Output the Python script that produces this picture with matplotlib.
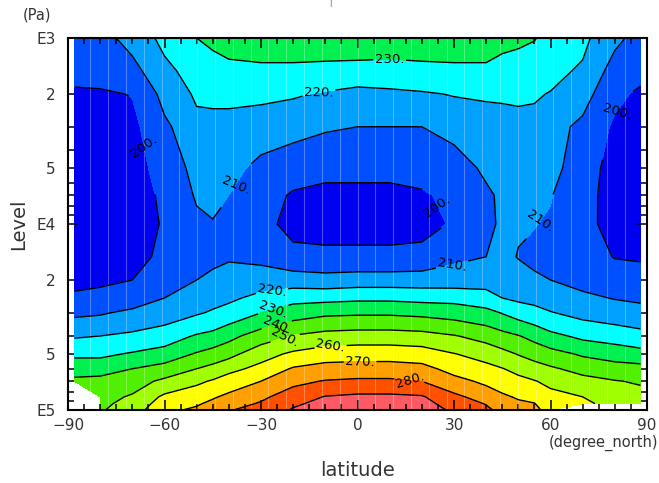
import matplotlib
matplotlib.use('Agg')
import matplotlib.pyplot as plt
import matplotlib.ticker as mticker
import numpy as np

nan = np.nan

# latitude (degree_north) and pressure level (Pa)
lat = [-88, -80, -70, -60, -50, -45, -40, -30, -20, -10, 0, 10, 20, 30, 40, 45, 50, 55, 60, 70, 80, 88]
level = [1000, 1500, 2000, 3000, 5000, 7000, 10000, 15000, 20000, 25000,
         30000, 40000, 50000, 60000, 70000, 85000, 92500, 100000]

# temperature (K), one row per level, columns follow lat
temp = [
    [206, 207, 213, 223, 230, 232, 233, 235, 235, 236, 237, 236, 236, 235, 235, 233, 232, 230.5, 227, 222.5, 212, 207],
    [202, 203, 207, 217, 225, 226, 228, 228, 228, 227, 226, 226, 227, 228, 228, 226, 225, 224, 223, 218.5, 206, 202.5],
    [199, 199, 200.3, 213, 221.5, 222, 222, 222, 221, 219, 217, 218, 219, 220.5, 221, 221, 221.5, 221, 219.5, 214, 202, 198.5],
    [197, 197, 197.5, 208, 217, 217, 217, 215, 213, 211, 210, 210, 210, 213, 216, 217, 217, 217, 214, 207.5, 198.5, 196],
    [196, 195, 196, 204, 213, 214, 213.5, 207, 204, 202, 202, 202, 203, 205, 212, 214, 214, 214, 213, 205, 196, 195],
    [196, 195, 195, 202, 211, 212, 210, 204, 199, 198, 198, 198, 199, 202, 208, 212, 212, 212, 210.5, 203.5, 196, 195],
    [196, 195, 195, 201, 208, 209.5, 207, 203, 197, 197, 197, 197, 197, 201, 207, 212, 211, 210.3, 209, 203, 196.5, 195.5],
    [197, 197, 197, 202, 208, 208, 209, 207.5, 203, 202, 202, 202, 203, 208, 210, 213, 209.5, 208, 207, 204, 199.6, 199],
    [198.5, 198.5, 200, 205, 210, 212, 214, 215, 215, 214, 215, 215, 215, 215, 216, 217, 215, 211.5, 210, 207, 205, 204],
    [201, 202.5, 205, 210, 215, 217, 218, 223, 226.7, 227, 228, 228, 227, 226.7, 224, 220, 218, 217, 215.5, 212, 209.5, 208.5],
    [208, 209, 212, 215, 219, 221, 224, 230, 235.3, 238, 238.5, 238.5, 237.5, 235.9, 233, 229.5, 226, 223.3, 220.5, 217, 215, 213],
    [219, 220, 222, 225, 231, 233, 237, 245, 250.6, 253.6, 254.6, 254.6, 253.6, 250.6, 246.5, 243.3, 240.5, 236.9, 232.6, 227.8, 225.5, 223.5],
    [228, 228, 231, 234, 241, 244, 247, 256, 261.9, 265.3, 266, 266, 265, 260.4, 256, 253, 249.5, 246.5, 243.7, 238.7, 235.9, 233.5],
    [236, 236, 240, 244, 250, 253, 257, 263, 271, 273.7, 274.2, 274.2, 273, 266.7, 263, 260.4, 257, 254, 251.4, 246.8, 244, 243.5],
    [242, 243, 246, 252, 258, 261, 265, 270, 277.5, 280.6, 281.7, 281.7, 280, 273.1, 268, 265.6, 263, 260.5, 257.6, 253.2, 250.5, 249],
    [nan, 247, 251, 262, 266, 269, 272, 278, 285, 290.5, 292, 292, 291, 282.4, 275.5, 271.5, 269, 267.5, 263, 260, 254.5, 253],
    [nan, 248, 253, 265, 269, 272, 276, 281, 288.4, 293, 294.5, 294.5, 293.5, 285.5, 279.5, 274.5, 271.5, 270.3, 265, 262.5, 256, 255],
    [nan, 249, 255, 268, 271.5, 274, 279.5, 283, 291, 295, 297, 297, 296, 288, 282, 277, 273.5, 272, 267, nan, nan, nan],
]

line_levels = [200, 210, 220, 230, 240, 250, 260, 270, 280, 290]
fill_levels = [150] + line_levels + [330]
fill_colors = ['#0000f0', '#0050ff', '#00a0ff', '#00ffff', '#00f050', '#50f000',
               '#a0ff00', '#ffff00', '#ffa000', '#ff5000', '#ff5a64']

# where the contour labels sit (lat, Pa)
label_pos = [(10, 1120), (-12, 1900), (-66.7, 4000), (-38, 5800), (24.7, 8100),
             (80.6, 2300), (56.8, 9500), (29.4, 16600), (-26.6, 22700), (-26.6, 28000),
             (-25.7, 33700), (-23.5, 39500), (-8.5, 44600), (0.8, 52400), (15.7, 71300)]

T = np.ma.masked_invalid(np.array(temp))
X, Y = np.meshgrid(lat, level)

fig = plt.figure(figsize=(6.59, 4.83), dpi=100)
ax = fig.add_axes([68 / 659, 1 - 410 / 483, 579 / 659, 372 / 483])

ax.contourf(X, Y, T, levels=fill_levels, colors=fill_colors)
for xv in np.arange(-15, 16) * 5.535:
    ax.axvline(xv, color='white', lw=0.8, alpha=0.3)
cs = ax.contour(X, Y, T, levels=line_levels, colors='black', linewidths=1.0)
ax.clabel(cs, fmt='%d.', fontsize=9.5, inline=True, inline_spacing=2, manual=label_pos)

ax.set_yscale('log')
ax.set_xlim(-90, 90)
ax.set_ylim(1e5, 1e3)

ax.xaxis.set_major_locator(mticker.FixedLocator([-90, -60, -30, 0, 30, 60, 90]))
ax.xaxis.set_minor_locator(mticker.MultipleLocator(5))
ax.yaxis.set_major_locator(mticker.FixedLocator([1e3, 1e4, 1e5]))
ax.yaxis.set_major_formatter(mticker.FixedFormatter(['E3', 'E4', 'E5']))
ax.yaxis.set_minor_locator(mticker.FixedLocator([k * 10 ** e for e in (3, 4) for k in range(2, 10)]))
ax.yaxis.set_minor_formatter(mticker.FuncFormatter(
    lambda v, p: str(int(round(v / 10 ** np.floor(np.log10(v))))) if round(v / 10 ** np.floor(np.log10(v))) in (2, 5) else ''))

ax.tick_params(which='both', direction='in', top=True, right=True, width=1.1,
               labelsize=11, labelcolor='#333333')
ax.tick_params(which='major', length=7)
ax.tick_params(which='minor', length=4)
ax.tick_params(axis='x', which='both', pad=6)
ax.tick_params(axis='y', which='both', pad=9)
for s in ax.spines.values():
    s.set_linewidth(1.5)

ax.set_xlabel('latitude', fontsize=14, color='#333333', labelpad=20)
ax.set_ylabel('Level', fontsize=14, color='#333333', labelpad=6)
fig.text(23 / 659, 1 - 15 / 483, '(Pa)', fontsize=10.5, color='#333333', va='center')
fig.text(549 / 659, 1 - 443 / 483, '(degree_north)', fontsize=10.5, color='#333333', va='center')
fig.text(330 / 659, 1.0, '|', fontsize=5, color='#555555', ha='center', va='top')

fig.savefig('out.png', dpi=100)
